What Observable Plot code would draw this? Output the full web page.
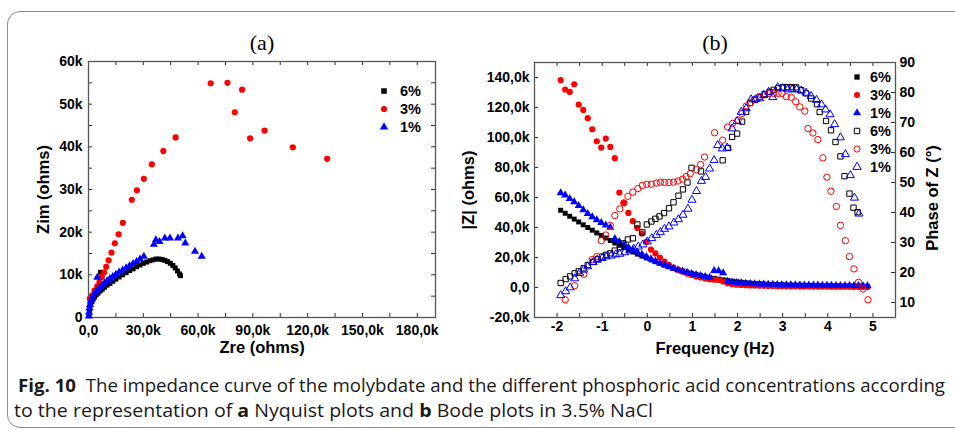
<!DOCTYPE html>
<html><head><meta charset="utf-8">
<script src="https://cdn.jsdelivr.net/npm/d3@7"></script>
<script src="https://cdn.jsdelivr.net/npm/@observablehq/plot@0.6"></script>
<style>
html,body{margin:0;padding:0;background:#fff;}
#page{position:relative;width:955px;height:430px;overflow:hidden;background:#fff;}
.panel{position:absolute;top:0;}
#box{position:absolute;left:7px;top:11px;width:1000px;height:417px;border:1.5px solid #8c8c8c;border-radius:13px 0 0 13px;box-sizing:border-box;pointer-events:none;}
.ptitle{position:absolute;font-family:"Liberation Serif","Times New Roman",serif;font-size:22px;transform:translate(-50%,-50%);line-height:1;}
.legend{position:absolute;font-family:"Liberation Sans",Arial,sans-serif;font-weight:bold;font-size:14.5px;color:#000;}
.legend .row{display:flex;align-items:center;height:18px;}
.legend svg{display:block;}
.caption{position:absolute;font-family:"Open Sans","Noto Sans","DejaVu Sans Condensed",sans-serif;font-size:18px;white-space:nowrap;color:#1a1a1a;line-height:22px;transform-origin:0 50%;}
.caption b{font-weight:700;}
</style></head>
<body>
<div id="page">
  <div id="panelA" class="panel" style="left:0px;width:460px;"></div>
  <div id="panelB" class="panel" style="left:460px;width:495px;"></div>
  <div class="ptitle" style="left:262px;top:43px;">(a)</div>
  <div class="ptitle" style="left:715px;top:43px;">(b)</div>
  <div id="legA" class="legend" style="left:376px;top:82px;"></div>
  <div id="legB" class="legend" style="left:849px;top:68px;"></div>
  <div id="cap1" class="caption" style="left:18px;top:374px;"><b>Fig. 10</b>&nbsp; The impedance curve of the molybdate and the different phosphoric acid concentrations according</div>
  <div id="cap2" class="caption" style="left:14px;top:399px;">to the representation of <b>a</b> Nyquist plots and <b>b</b> Bode plots in 3.5% NaCl</div>
  <div id="box"></div>
</div>
<script>
// ---------- Panel (a): Nyquist data (k ohms) ----------
const zre6 = [0.3,0.5,0.8,1.2,1.8,2.5,3.3,4.2,5.2,6.3,7.5,8.8,10.2,11.7,13.3,15.0,16.8,18.7,20.6,22.5,24.4,26.3,28.2,30.0,31.8,33.6,35.3,37.0,38.6,40.2,41.8,43.3,44.8,46.2,47.5,48.7,49.8,50.4,6.6];
const zim6 = [0.5,1.4,2.3,3.0,3.7,4.3,4.8,5.3,5.7,6.2,6.6,7.1,7.6,8.0,8.5,9.0,9.5,10.0,10.5,11.0,11.4,11.9,12.3,12.7,13.0,13.3,13.5,13.7,13.7,13.6,13.4,13.1,12.7,12.2,11.6,10.9,10.2,9.8,10.6];
const zre3 = [0.7,2.0,3.3,4.8,6.0,7.3,8.6,9.7,11.0,12.6,14.4,16.5,18.8,23.7,26.5,30.3,34.7,41.0,47.7,66.9,76.1,84.1,80.1,88.5,96.4,111.9,130.7];
const zim3 = [4.4,5.2,6.3,7.3,8.3,9.5,10.6,11.9,13.4,15.2,17.4,19.5,22.2,27.6,29.8,32.5,35.9,39.0,42.2,54.9,55.0,53.4,48.1,42.0,43.8,39.9,37.2];
const zre1 = [0.2,0.3,0.5,0.8,1.2,1.8,2.5,3.3,4.2,5.2,6.3,7.5,8.8,10.2,11.7,13.3,15.0,16.8,18.7,20.6,22.5,24.4,26.3,28.2,30.3,35.8,36.9,38.9,41.8,44.6,49.0,51.5,53.0,58.3,62.0,4.8];
const zim1 = [0.3,1.2,2.2,3.0,3.8,4.5,5.1,5.6,6.1,6.6,7.1,7.6,8.1,8.6,9.1,9.6,10.1,10.6,11.1,11.6,12.1,12.6,13.1,13.7,14.3,17.1,18.2,17.8,18.6,18.6,18.6,19.1,17.4,15.5,14.3,9.4];

const nyqXTicks = [0,30000,60000,90000,120000,150000,180000];
const nyqXMinor = [0,15000,30000,45000,60000,75000,90000,105000,120000,135000,150000,165000,180000];
const nyqYTicks = [0,10000,20000,30000,40000,50000,60000];
const nyqYMinor = [0,5000,10000,15000,20000,25000,30000,35000,40000,45000,50000,55000,60000];

// ---------- Panel (b): Bode data ----------
const logF = [-1.92,-1.82,-1.72,-1.62,-1.52,-1.42,-1.32,-1.22,-1.12,-1.02,-0.92,-0.82,-0.72,-0.62,-0.52,-0.42,-0.32,-0.22,-0.12,-0.02,0.08,0.18,0.28,0.38,0.48,0.58,0.68,0.78,0.88,0.98,1.08,1.18,1.28,1.38,1.48,1.58,1.68,1.78,1.88,1.98,2.08,2.18,2.28,2.38,2.48,2.58,2.68,2.78,2.88,2.98,3.08,3.18,3.28,3.38,3.48,3.58,3.68,3.78,3.88,3.98,4.08,4.18,4.28,4.38,4.48,4.58,4.68,4.78,4.88];
// |Z| in k ohms
const absZ6 = [51.5,49.5,47.5,45.6,43.7,41.8,40.0,38.2,36.4,34.7,33.0,31.3,29.7,28.1,26.6,25.1,23.7,22.3,21.0,19.7,18.4,17.2,16.0,14.9,13.8,12.8,11.9,11.0,10.2,9.4,8.7,8.0,7.3,6.7,6.1,5.6,5.1,4.6,4.2,3.8,3.5,3.2,2.9,2.7,2.5,2.3,2.1,2.0,1.9,1.8,1.7,1.6,1.5,1.5,1.4,1.4,1.3,1.3,1.2,1.2,1.1,1.1,1.0,1.0,1.0,0.9,0.9,0.9,0.8];
const absZ3 = [138.2,132.0,130.4,135.5,122.0,118.4,112.9,105.5,97.5,93.3,99.3,93.7,86.2,63.3,56.5,49.7,44.2,39.7,36.0,30.5,25.3,22.7,20.0,17.3,15.0,13.2,11.8,10.5,9.3,8.3,7.4,6.7,6.0,5.5,5.2,5.0,4.0,2.8,2.2,1.9,1.7,1.5,1.4,1.3,1.2,1.1,1.0,1.0,0.9,0.9,0.8,0.8,0.8,0.7,0.7,0.7,0.6,0.6,0.6,0.6,0.5,0.5,0.5,0.5,0.5,0.4,0.4,0.4,0.4];
const absZ1 = [63.1,61.5,59.3,57.0,54.5,51.8,49.3,47.0,45.0,43.2,41.5,40.0,32.5,30.5,28.5,26.8,25.1,23.5,22.0,20.5,19.0,17.6,16.2,15.0,13.9,12.8,11.8,10.9,10.1,9.3,8.6,7.9,7.3,6.8,11.2,11.0,9.8,4.0,3.5,3.2,3.0,2.8,2.6,2.4,2.3,2.2,2.1,2.0,1.9,1.8,1.8,1.7,1.7,1.6,1.6,1.5,1.5,1.5,1.4,1.4,1.4,1.3,1.3,1.3,1.2,1.2,1.2,1.1,1.1];
// phase of Z (degrees)
const phaseF6 = [-1.92,-1.81,-1.71,-1.61,-1.52,-1.41,-1.32,-1.2,-1.1,-1.0,-0.91,-0.82,-0.72,-0.61,-0.53,-0.43,-0.32,-0.22,-0.11,-0.01,0.09,0.18,0.27,0.37,0.48,0.58,0.69,0.79,0.89,0.98,1.19,1.67,1.79,1.88,1.99,2.1,2.19,2.28,2.38,2.49,2.6,2.71,2.8,2.9,3.0,3.1,3.2,3.3,3.41,3.52,3.63,3.76,3.82,3.96,4.07,4.17,4.28,4.37,4.48,4.57,4.66];
const phase6  = [16.5,17.8,18.7,19.7,20.4,21.4,22.5,23.6,24.5,25.3,25.9,26.4,27.3,28.4,29.7,31.0,31.4,36.0,33.4,36.0,37.0,37.9,38.7,39.8,41.4,43.4,45.6,47.7,50.0,54.9,53.7,57.4,61.5,65.2,66.3,70.3,73.5,76.5,77.5,78.6,79.5,80.2,80.9,81.4,81.7,81.8,81.8,81.7,80.8,79.7,78.0,76.1,73.5,70.5,67.4,63.5,58.7,52.1,46.3,41.6,40.1];
const phaseF3 = [-1.82,-1.61,-1.41,-1.22,-1.12,-1.02,-0.92,-0.82,-0.72,-0.61,-0.52,-0.43,-0.32,-0.21,-0.11,-0.01,0.09,0.2,0.29,0.38,0.48,0.58,0.68,0.78,0.86,0.95,1.09,1.18,1.27,1.49,1.67,1.78,1.89,2.01,2.1,2.19,2.28,2.38,2.49,2.6,2.7,2.8,2.9,2.98,3.08,3.19,3.29,3.38,3.49,3.56,3.67,3.78,3.89,3.98,4.07,4.19,4.28,4.39,4.48,4.58,4.68,4.78,4.89];
const phase3  = [10.9,15.6,19.4,24.3,25.3,30.6,32.5,35.7,39.0,41.2,43.2,45.4,46.8,48.0,49.0,49.4,49.4,49.8,50.1,50.0,50.0,50.1,50.5,51.1,52.0,52.9,54.3,56.0,58.5,66.6,64.1,68.5,69.7,70.8,73.0,75.5,76.6,77.7,78.5,79.2,79.7,79.7,79.7,79.7,78.6,78.4,76.9,75.2,73.8,68.0,66.5,64.3,58.2,51.8,47.1,42.0,35.7,30.6,25.3,21.2,16.7,14.5,10.9];
const phaseF1 = [-1.92,-1.81,-1.71,-1.61,-1.5,-1.41,-1.32,-1.2,-1.11,-1.0,-0.91,-0.8,-0.7,-0.61,-0.5,-0.39,-0.3,-0.2,-0.1,0.0,0.1,0.2,0.29,0.38,0.48,0.59,0.69,0.79,0.9,0.99,1.09,1.2,1.29,1.38,1.48,1.56,1.66,1.77,1.88,1.99,2.08,2.19,2.3,2.4,2.49,2.58,2.69,2.78,2.89,3.0,3.11,3.21,3.31,3.41,3.52,3.63,3.75,3.86,3.95,4.05,4.15,4.28,4.39,4.5,4.59,4.69];
const phase1  = [12.4,13.7,15.0,18.0,19.8,20.9,22.0,23.4,24.2,24.8,25.3,25.6,26.0,26.2,26.7,27.3,27.9,28.6,29.3,30.3,31.4,32.5,33.4,34.5,35.3,36.6,37.7,39.2,41.2,44.2,47.1,50.5,51.8,54.6,57.4,62.4,61.3,61.6,68.0,70.4,73.5,74.7,77.7,77.7,78.0,79.1,80.2,78.4,81.7,81.4,81.0,81.0,81.0,80.6,79.9,78.8,77.5,76.0,74.3,72.7,69.4,65.0,59.4,52.4,44.9,39.6];

const bodeXTicks = [-2,-1,0,1,2,3,4,5];
const bodeXMinor = [-2.5,-2,-1.5,-1,-0.5,0,0.5,1,1.5,2,2.5,3,3.5,4,4.5,5,5.5];
const bodeZTicks = [-20000,0,20000,40000,60000,80000,100000,120000,140000];
const phaseTicks = [10,20,30,40,50,60,70,80,90];

const seriesLabels = ["6%","3%","1%"];
const seriesColors = ["#000000","#ff0000","#0000ff"];

// ---------- helpers ----------
const phaseToZ = p => 2000 * p - 30000;   // right axis 5..90 <-> left axis -20k..150k
const zToPhase = z => (z + 30000) / 2000;
const fmtK1 = d => d === 0 ? "0,0" : (d / 1000).toFixed(1).replace(".", ",") + "k";
const fmtK0 = d => d === 0 ? "0" : (d / 1000) + "k";

const nyq = (re, im) => re.map((x, i) => ({zre: x * 1000, zim: im[i] * 1000}));
const bodeAbs = arr => logF.map((f, i) => ({f, z: arr[i] * 1000}));
const bodePh = (fs, ps) => fs.map((f, i) => ({f, z: phaseToZ(ps[i])}));

const baseStyle = {fontFamily: "'Liberation Sans', Arial, sans-serif", fontSize: "14px", fontWeight: "bold", background: "transparent", color: "#000", overflow: "visible"};
const TICK = 4;

// inward tick marks on all four sides of a frame
function innerTicks(xs, ys, frameW, frameH) {
  const st = {stroke: "#333", strokeWidth: 1};
  return [
    Plot.tickX(xs, {x: d => d, insetTop: frameH - TICK, ...st}),
    Plot.tickX(xs, {x: d => d, insetBottom: frameH - TICK, ...st}),
    Plot.tickY(ys.left, {y: d => d, insetRight: frameW - TICK, ...st}),
    Plot.tickY(ys.right, {y: d => d, insetLeft: frameW - TICK, ...st})
  ];
}

// ---------- chart (a) ----------
const A = {w: 460, h: 370, top: 61, left: 88, right: 25, bottom: 53};
const AW = A.w - A.left - A.right, AH = A.h - A.top - A.bottom;
const chartA = Plot.plot({
  width: A.w, height: A.h,
  marginTop: A.top, marginLeft: A.left, marginRight: A.right, marginBottom: A.bottom,
  x: {domain: [0, 190000]},
  y: {domain: [0, 60000]},
  style: baseStyle,
  marks: [
    Plot.axisX({anchor: "bottom", ticks: nyqXTicks, tickSize: 0, tickPadding: 8, tickFormat: fmtK1, label: null}),
    Plot.axisY({anchor: "left", ticks: nyqYTicks, tickSize: 0, tickPadding: 6, tickFormat: fmtK0, label: null}),
    ...innerTicks(nyqXMinor, {left: nyqYMinor, right: nyqYMinor}, AW, AH),
    Plot.frame({stroke: "#555", strokeWidth: 1.3}),
    Plot.dot(nyq(zre6, zim6), {x: "zre", y: "zim", symbol: "square", fill: seriesColors[0], r: 2.8}),
    Plot.dot(nyq(zre3, zim3), {x: "zre", y: "zim", symbol: "circle", fill: seriesColors[1], r: 3.1}),
    Plot.dot(nyq(zre1, zim1), {x: "zre", y: "zim", symbol: "triangle", fill: seriesColors[2], r: 3.0}),
    Plot.text(["Zre (ohms)"], {frameAnchor: "bottom", dy: 35, fontSize: 16.5, textAnchor: "middle"}),
    Plot.text(["Zim (ohms)"], {frameAnchor: "left", dx: -45, rotate: -90, fontSize: 16.5, textAnchor: "middle"})
  ]
});
document.getElementById("panelA").appendChild(chartA);

// ---------- chart (b) ----------
const B = {w: 495, h: 370, top: 62, left: 74, right: 60, bottom: 53};
const BW = B.w - B.left - B.right, BH = B.h - B.top - B.bottom;
const chartB = Plot.plot({
  width: B.w, height: B.h,
  marginTop: B.top, marginLeft: B.left, marginRight: B.right, marginBottom: B.bottom,
  x: {domain: [-2.5, 5.5]},
  y: {domain: [-20000, 150000]},
  style: baseStyle,
  marks: [
    Plot.axisX({anchor: "bottom", ticks: bodeXTicks, tickSize: 0, tickPadding: 4, tickFormat: d => String(d), label: null}),
    Plot.axisY({anchor: "left", ticks: bodeZTicks, tickSize: 0, tickPadding: 5, tickFormat: fmtK1, label: null}),
    Plot.axisY({anchor: "right", ticks: phaseTicks.map(phaseToZ), tickSize: 0, tickPadding: 4, tickFormat: z => String(Math.round(zToPhase(z))), label: null}),
    ...innerTicks(bodeXMinor, {left: bodeZTicks, right: phaseTicks.map(phaseToZ)}, BW, BH),
    Plot.frame({stroke: "#555", strokeWidth: 1.3}),
    Plot.dot(bodeAbs(absZ6), {x: "f", y: "z", symbol: "square", fill: seriesColors[0], r: 2.8}),
    Plot.dot(bodeAbs(absZ3), {x: "f", y: "z", symbol: "circle", fill: seriesColors[1], r: 3.1}),
    Plot.dot(bodeAbs(absZ1), {x: "f", y: "z", symbol: "triangle", fill: seriesColors[2], r: 3.0}),
    Plot.dot(bodePh(phaseF6, phase6), {x: "f", y: "z", symbol: "square", fill: "none", stroke: seriesColors[0], strokeWidth: 1, r: 3.0}),
    Plot.dot(bodePh(phaseF3, phase3), {x: "f", y: "z", symbol: "circle", fill: "none", stroke: seriesColors[1], strokeWidth: 1, r: 3.2}),
    Plot.dot(bodePh(phaseF1, phase1), {x: "f", y: "z", symbol: "triangle", fill: "none", stroke: seriesColors[2], strokeWidth: 1, r: 3.0}),
    Plot.text(["Frequency (Hz)"], {frameAnchor: "bottom", dy: 36, fontSize: 16.5, textAnchor: "middle"}),
    Plot.text(["|Z| (ohms)"], {frameAnchor: "left", dx: -66, rotate: -90, fontSize: 16.5, textAnchor: "middle"}),
    Plot.text(["Phase of Z (°)"], {frameAnchor: "right", dx: 37, dy: 8, rotate: -90, fontSize: 16.5, textAnchor: "middle"})
  ]
});
document.getElementById("panelB").appendChild(chartB);

// ---------- legends ----------
const symbolTypes = {square: d3.symbolSquare, circle: d3.symbolCircle, triangle: d3.symbolTriangle};
function addLegend(id, entries) {
  const box = document.getElementById(id);
  for (const e of entries) {
    const row = document.createElement("div");
    row.className = "row";
    const path = d3.symbol(symbolTypes[e.symbol], Math.PI * e.r * e.r)();
    const fill = e.open ? "none" : e.color;
    const stroke = e.open ? e.color : "none";
    row.innerHTML = `<svg width="16" height="18"><path transform="translate(8,9)" d="${path}" fill="${fill}" stroke="${stroke}" stroke-width="1"></path></svg><span style="margin-left:${e.gap}px">${e.label}</span>`;
    box.appendChild(row);
  }
}
const symbolsOrder = ["square", "circle", "triangle"];
addLegend("legA", seriesLabels.map((l, i) => ({label: l, color: seriesColors[i], symbol: symbolsOrder[i], r: 3.1, open: false, gap: 8})));
addLegend("legB", [
  ...seriesLabels.map((l, i) => ({label: l, color: seriesColors[i], symbol: symbolsOrder[i], r: 3.0, open: false, gap: 5})),
  ...seriesLabels.map((l, i) => ({label: l, color: seriesColors[i], symbol: symbolsOrder[i], r: 3.1, open: true, gap: 5}))
]);

// condense each caption line horizontally to the reference line width
function fitLine(id, target) {
  const el = document.getElementById(id);
  const w = el.getBoundingClientRect().width;
  el.style.transform = `scaleX(${target / w})`;
}
fitLine("cap1", 927);
fitLine("cap2", 639);
</script>
</body></html>
